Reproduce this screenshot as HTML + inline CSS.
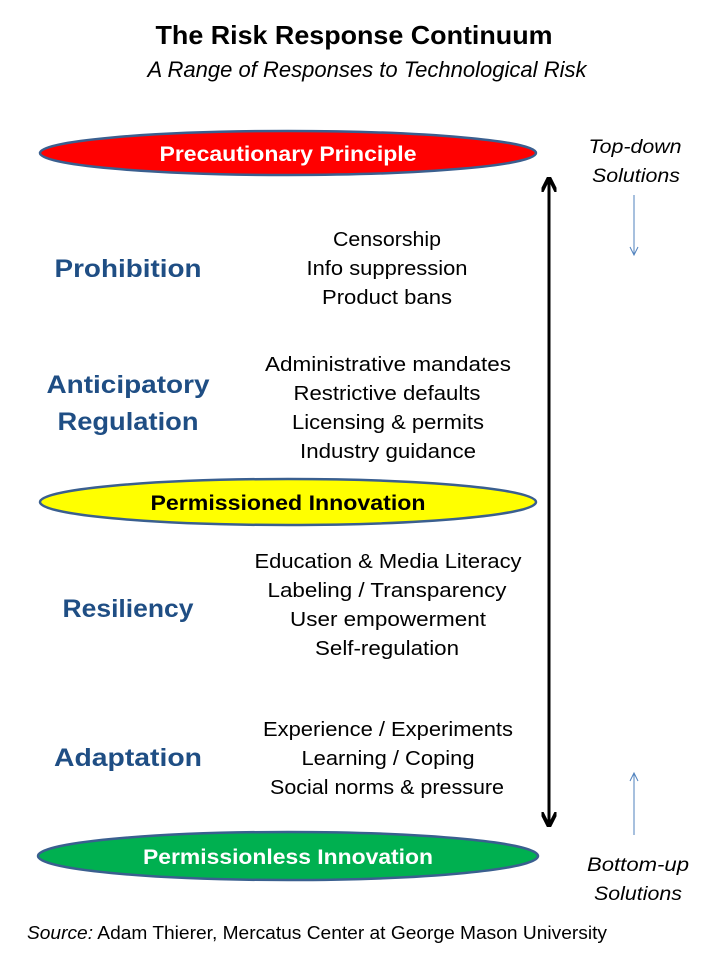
<!DOCTYPE html>
<html><head><meta charset="utf-8"><style>
html,body{margin:0;padding:0;background:#fff;}
svg{display:block;font-family:"Liberation Sans",sans-serif;}
</style></head><body>
<svg width="720" height="960" viewBox="0 0 720 960" xmlns="http://www.w3.org/2000/svg">
<defs>
<marker id="ah" viewBox="0 0 10 10" refX="8" refY="5" markerWidth="5" markerHeight="5" orient="auto-start-reverse"><path d="M0,0 L10,5 L0,10" fill="none" stroke="#000" stroke-width="2.5"/></marker>
</defs>
<text x="354" y="44" text-anchor="middle" font-size="26" font-weight="bold" textLength="397" lengthAdjust="spacingAndGlyphs">The Risk Response Continuum</text>
<text x="367" y="77" text-anchor="middle" font-size="22" font-style="italic" textLength="439" lengthAdjust="spacingAndGlyphs">A Range of Responses to Technological Risk</text>

<ellipse cx="288" cy="153" rx="248" ry="22" fill="#ff0000" stroke="#3a5f8f" stroke-width="2.5"/>
<text x="288" y="161" text-anchor="middle" font-size="21" font-weight="bold" fill="#fff" textLength="257" lengthAdjust="spacingAndGlyphs">Precautionary Principle</text>
<ellipse cx="288" cy="502" rx="248" ry="23" fill="#ffff00" stroke="#3a5f8f" stroke-width="2.5"/>
<text x="288" y="510" text-anchor="middle" font-size="21" font-weight="bold" fill="#000" textLength="275" lengthAdjust="spacingAndGlyphs">Permissioned Innovation</text>
<ellipse cx="288" cy="856" rx="250" ry="24" fill="#00b050" stroke="#3a5f8f" stroke-width="2.5"/>
<text x="288" y="864" text-anchor="middle" font-size="21" font-weight="bold" fill="#fff" textLength="290" lengthAdjust="spacingAndGlyphs">Permissionless Innovation</text>

<g fill="#1f4e84" font-size="25" font-weight="bold" text-anchor="middle">
<text x="128" y="277" textLength="147" lengthAdjust="spacingAndGlyphs">Prohibition</text>
<text x="128" y="393" textLength="163" lengthAdjust="spacingAndGlyphs">Anticipatory</text>
<text x="128" y="430" textLength="141" lengthAdjust="spacingAndGlyphs">Regulation</text>
<text x="128" y="617" textLength="131" lengthAdjust="spacingAndGlyphs">Resiliency</text>
<text x="128" y="766" textLength="148" lengthAdjust="spacingAndGlyphs">Adaptation</text>
</g>
<g font-size="20" text-anchor="middle" fill="#000" lengthAdjust="spacingAndGlyphs">
<text x="387" y="246" textLength="108" lengthAdjust="spacingAndGlyphs">Censorship</text>
<text x="387" y="275" textLength="161" lengthAdjust="spacingAndGlyphs">Info suppression</text>
<text x="387" y="304" textLength="130" lengthAdjust="spacingAndGlyphs">Product bans</text>
<text x="388" y="371" textLength="246" lengthAdjust="spacingAndGlyphs">Administrative mandates</text>
<text x="387" y="400" textLength="187" lengthAdjust="spacingAndGlyphs">Restrictive defaults</text>
<text x="388" y="429" textLength="192" lengthAdjust="spacingAndGlyphs">Licensing &amp; permits</text>
<text x="388" y="458" textLength="176" lengthAdjust="spacingAndGlyphs">Industry guidance</text>
<text x="388" y="568" textLength="267" lengthAdjust="spacingAndGlyphs">Education &amp; Media Literacy</text>
<text x="387" y="597" textLength="239" lengthAdjust="spacingAndGlyphs">Labeling  / Transparency</text>
<text x="388" y="626" textLength="196" lengthAdjust="spacingAndGlyphs">User empowerment</text>
<text x="387" y="655" textLength="144" lengthAdjust="spacingAndGlyphs">Self-regulation</text>
<text x="388" y="736" textLength="250" lengthAdjust="spacingAndGlyphs">Experience / Experiments</text>
<text x="388" y="765" textLength="173" lengthAdjust="spacingAndGlyphs">Learning / Coping</text>
<text x="387" y="794" textLength="234" lengthAdjust="spacingAndGlyphs">Social norms &amp; pressure</text>
</g>

<line x1="549" y1="180" x2="549" y2="824" stroke="#000" stroke-width="3" marker-start="url(#ah)" marker-end="url(#ah)"/>

<g font-size="19" font-style="italic" text-anchor="middle">
<text x="635" y="153" textLength="93" lengthAdjust="spacingAndGlyphs">Top-down</text>
<text x="636" y="182" textLength="88" lengthAdjust="spacingAndGlyphs">Solutions</text>
<text x="638" y="871" textLength="102" lengthAdjust="spacingAndGlyphs">Bottom-up</text>
<text x="638" y="900" textLength="88" lengthAdjust="spacingAndGlyphs">Solutions</text>
</g>
<line x1="634" y1="195" x2="634" y2="255" stroke="#4f81bd" stroke-width="1"/>
<path d="M630,247 L634,255 L638,247" fill="none" stroke="#4f81bd" stroke-width="1"/>
<line x1="634" y1="773" x2="634" y2="835" stroke="#4f81bd" stroke-width="1"/>
<path d="M630,781 L634,773 L638,781" fill="none" stroke="#4f81bd" stroke-width="1"/>

<text x="27" y="939" font-size="18" textLength="580" lengthAdjust="spacingAndGlyphs"><tspan font-style="italic">Source:</tspan> Adam Thierer, Mercatus Center at George Mason University</text>
</svg>
</body></html>
